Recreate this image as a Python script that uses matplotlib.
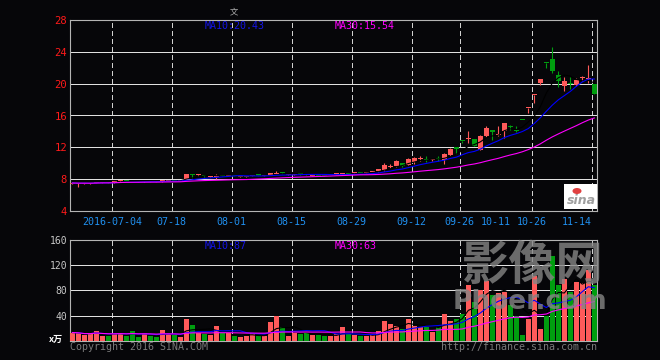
import numpy as np
import pandas as pd
import matplotlib
matplotlib.use('Agg')
import matplotlib.pyplot as plt
from matplotlib.patches import Rectangle, Ellipse

# daily k-line, oldest first; index 0 is 2016-07-04
opens = [7.45, 7.42, 7.45, 7.44, 7.55, 7.56, 7.62,
	7.62, 7.72, 7.80, 7.76, 7.70, 7.66, 7.74, 7.70, 7.72, 7.80,
	7.86, 7.82, 8.06, 8.65, 8.50, 8.55, 8.30, 8.28, 8.46, 8.45,
	8.48, 8.28, 8.28, 8.40, 8.52, 8.42, 8.56, 8.66, 8.78, 8.54,
	8.55, 8.66, 8.62, 8.44, 8.52, 8.50, 8.52, 8.60, 8.60, 8.75,
	8.75, 8.86, 8.80, 8.85, 8.98, 9.11, 9.56, 9.61, 10.03, 9.82,
	10.16, 10.55, 10.45, 10.35, 10.55, 10.45, 11.00, 12.00, 12.80, 13.10,
	13.05, 11.70, 13.38, 14.13, 13.50, 14.01, 14.65, 14.05, 15.39, 16.90,
	18.55, 20.12, 22.60, 23.10, 21.05, 19.70, 19.95, 19.87, 20.70, 20.55,
	19.95]
closes = [7.52, 7.48, 7.50, 7.47, 7.60, 7.62, 7.55,
	7.70, 7.80, 7.74, 7.70, 7.65, 7.72, 7.70, 7.66, 7.80, 7.86,
	7.80, 7.88, 8.69, 8.55, 8.55, 8.40, 8.36, 8.32, 8.40, 8.50,
	8.44, 8.32, 8.32, 8.46, 8.46, 8.46, 8.72, 8.76, 8.72, 8.58,
	8.60, 8.60, 8.56, 8.50, 8.46, 8.45, 8.56, 8.65, 8.70, 8.70,
	8.80, 8.82, 8.85, 9.00, 9.24, 9.74, 9.64, 10.24, 9.69, 10.49,
	10.70, 10.65, 10.40, 10.45, 10.50, 11.12, 11.79, 11.85, 12.75, 13.17,
	12.20, 13.46, 14.43, 13.88, 13.65, 15.05, 14.60, 14.00, 15.39, 16.94,
	18.61, 20.58, 22.55, 21.63, 20.33, 20.33, 19.90, 20.50, 20.75, 20.60,
	18.70]
highs = [7.55, 7.52, 7.55, 7.50, 7.68, 7.66, 7.64,
	7.74, 7.84, 7.82, 7.78, 7.72, 7.76, 7.76, 7.72, 7.84, 7.90,
	7.88, 7.92, 8.69, 8.66, 8.58, 8.58, 8.40, 8.65, 8.50, 8.56,
	8.50, 8.36, 8.36, 8.50, 8.54, 8.50, 8.76, 9.02, 8.80, 8.62,
	8.64, 8.68, 8.64, 8.54, 8.54, 8.52, 8.58, 8.68, 8.74, 8.80,
	8.86, 8.88, 8.88, 9.04, 9.28, 10.07, 9.90, 10.40, 10.06, 10.66,
	10.75, 10.86, 10.86, 10.50, 10.86, 11.29, 11.95, 12.00, 12.80, 14.05,
	13.10, 13.50, 14.68, 14.15, 14.68, 15.08, 14.86, 14.68, 15.39, 16.94,
	18.61, 20.58, 22.60, 24.60, 21.60, 20.83, 20.83, 20.75, 21.00, 22.34,
	19.95]
lows = [7.40, 7.00, 7.40, 7.40, 7.50, 7.52, 7.50,
	7.58, 7.68, 7.70, 7.62, 7.60, 7.62, 7.66, 7.62, 7.68, 7.76,
	7.76, 7.78, 8.02, 8.20, 8.40, 8.25, 8.26, 7.98, 8.36, 8.40,
	8.40, 8.24, 8.26, 8.36, 8.42, 8.40, 8.52, 8.62, 8.68, 8.50,
	8.50, 8.56, 8.52, 8.40, 8.42, 8.42, 8.50, 8.56, 8.56, 8.64,
	8.70, 8.80, 8.78, 8.80, 8.94, 9.05, 9.40, 9.58, 9.53, 9.80,
	9.90, 10.30, 10.15, 10.30, 10.30, 9.95, 10.95, 11.20, 12.50, 12.54,
	12.15, 11.65, 13.30, 12.88, 13.45, 13.17, 14.24, 13.95, 15.39, 16.35,
	17.57, 19.87, 21.96, 21.37, 19.58, 19.11, 19.33, 19.70, 20.33, 20.08,
	18.70]
volumes = [13, 12, 9, 11, 16, 8, 8,
	11, 13, 8, 16, 6, 12, 8, 6, 17.6, 11,
	9, 6, 35, 25.6, 13, 11, 9, 24, 12, 13,
	8, 6, 7, 13, 7, 7, 30, 39, 21, 7.5,
	13, 10, 13, 9, 9, 7, 7, 10, 22, 11,
	9, 7, 7, 9, 16, 32, 27, 24, 19, 35,
	24, 22, 22, 14, 22, 43, 32, 35, 43, 88,
	62, 80, 95, 73, 75, 78, 56, 40, 8.5, 34,
	103, 19, 40, 134, 88, 98, 78, 94, 91, 112,
	88]

tick_pos = [-0.43, 9.57, 19.57, 29.57, 39.57, 49.57, 57.57, 63.53, 69.62, 77.07]
tick_labels = ['2016-07-04', '07-18', '08-01', '08-15', '08-29',
	'09-12', '09-26', '10-11', '10-26', '11-14']
grid_pos = [-0.38, 9.62, 19.62, 29.62, 39.62, 49.62, 57.62, 69.62, 79.62]

price_ticks = [4, 8, 12, 16, 20, 24, 28]
vol_ticks = [40, 80, 120, 160]

BG = '#060609'
RED = '#ff5a5a'
GREEN = '#009e0f'
FRAME = '#b4b4b4'
W, H = 660, 360

def fx(x):
	return x / W

def fy(y):
	return 1 - y / H

def style_axes(ax):
	ax.set_facecolor(BG)
	for s in ax.spines.values():
		s.set_color(FRAME)
		s.set_linewidth(0.8)
	ax.tick_params(length=0)
	for g in grid_pos:
		ax.axvline(g, color='#d0d0d0', lw=0.72, ls=(0, (5, 4)), antialiased=False, zorder=1)

def hgrid(ax, levels):
	for v in levels:
		ax.axhline(v, color='#e0e0e0', lw=0.72, ls=(0, (1, 1)), antialiased=False, zorder=1)

x = np.arange(len(closes)) - 7
o = np.array(opens)
c = np.array(closes)
colors = [RED if cc > oo else GREEN for oo, cc in zip(o, c)]
close_s = pd.Series(c)
vol_s = pd.Series(volumes)

fig = plt.figure(figsize=(6.6, 3.6), dpi=100, facecolor=BG)
mono = 'DejaVu Sans Mono'

# price panel
ax = fig.add_axes([fx(70), fy(211), fx(527), 191 / H])
style_axes(ax)
hgrid(ax, price_ticks[1:-1])
ax.vlines(x, lows, highs, colors=colors, lw=0.8, zorder=3)
bottoms = np.minimum(o, c)
heights = np.maximum(np.abs(c - o), 0.13)
ax.bar(x, heights, bottom=bottoms, width=0.82, color=colors, zorder=3)
ax.plot(x, close_s.rolling(5, min_periods=1).mean(), color='black', lw=0.8, zorder=4)
ax.plot(x, close_s.rolling(10, min_periods=1).mean(), color='#0000ff', lw=0.8, zorder=4)
ax.plot(x, close_s.rolling(30, min_periods=1).mean(), color='#ff00ff', lw=0.8, zorder=4)
ax.set_xlim(-7.4, 80.45)
ax.set_ylim(4, 28)
ax.set_yticks(price_ticks)
ax.set_yticklabels([str(t) for t in price_ticks], color='#ff1a1a', fontsize=7.6, family=mono)
ax.set_xticks(tick_pos)
ax.set_xticklabels(tick_labels, color='#2090f0', fontsize=7.2, family=mono)
ax.tick_params(axis='y', pad=2)
ax.tick_params(axis='x', pad=4)

# volume panel
ax2 = fig.add_axes([fx(70), fy(340.7), fx(527), 100.7 / H])
style_axes(ax2)
hgrid(ax2, vol_ticks[:-1])
ax2.bar(x, volumes, width=0.75, color=colors, zorder=3)
ax2.plot(x, vol_s.rolling(5, min_periods=1).mean(), color='black', lw=0.8, zorder=4)
ax2.plot(x, vol_s.rolling(10, min_periods=1).mean(), color='#0000ff', lw=0.8, zorder=4)
ax2.plot(x, vol_s.rolling(30, min_periods=1).mean(), color='#ff00ff', lw=0.8, zorder=4)
ax2.set_xlim(-7.4, 80.45)
ax2.set_ylim(0, 160)
ax2.set_xticks([])
ax2.set_yticks(vol_ticks)
ax2.set_yticklabels([str(t) for t in vol_ticks], color='#c8c8c8', fontsize=7, family=mono)
ax2.tick_params(axis='y', pad=2)

# texts
fig.text(fx(205), fy(26), 'MA10:20.43', color='#1414e6', fontsize=7.2, family=mono, va='center')
fig.text(fx(335), fy(26), 'MA30:15.54', color='#ff00ff', fontsize=7.2, family=mono, va='center')
fig.text(fx(205), fy(246), 'MA10:87', color='#1414e6', fontsize=7.2, family=mono, va='center')
fig.text(fx(335), fy(246), 'MA30:63', color='#ff00ff', fontsize=7.2, family=mono, va='center')
fig.text(fx(70), fy(347), 'Copyright 2016 SINA.COM', color='#7a7a7a', fontsize=7.2, family=mono, va='center')
fig.text(fx(597), fy(347), 'http://finance.sina.com.cn', color='#7a7a7a', fontsize=7.2,
	family=mono, va='center', ha='right')
fig.text(fx(234), fy(12), '文', color='#b0b0b0', fontsize=6, family=['Noto Sans CJK SC', 'DejaVu Sans'],
	va='center', ha='center')
fig.text(fx(56), fy(339), 'x万', color='white', fontsize=6.5, family=['Noto Sans CJK SC', 'DejaVu Sans'],
	va='center', ha='center', weight='bold')

# sina logo box
fig.add_artist(Rectangle((fx(564), fy(209)), fx(33), 25 / H, transform=fig.transFigure,
	facecolor='white', edgecolor='none', zorder=5))
fig.add_artist(Ellipse((fx(577), fy(191)), fx(9), 6 / H, transform=fig.transFigure,
	facecolor='#e04040', edgecolor='none', zorder=6))
fig.text(fx(581), fy(201), 'sina', color='#a0a0a0', fontsize=9, weight='bold', style='italic',
	va='center', ha='center', zorder=7)

# watermark
fig.text(fx(533), fy(266), '影像网', color='#858585', alpha=0.8, fontsize=34, weight='bold',
	family=['Noto Sans CJK SC', 'DejaVu Sans'], va='center', ha='center', zorder=8)
fig.text(fx(530), fy(302), 'Phoer.com', color='#858585', alpha=0.8, fontsize=19, weight='bold',
	va='center', ha='center', zorder=8)

fig.savefig('out.png', dpi=100, facecolor=BG)
